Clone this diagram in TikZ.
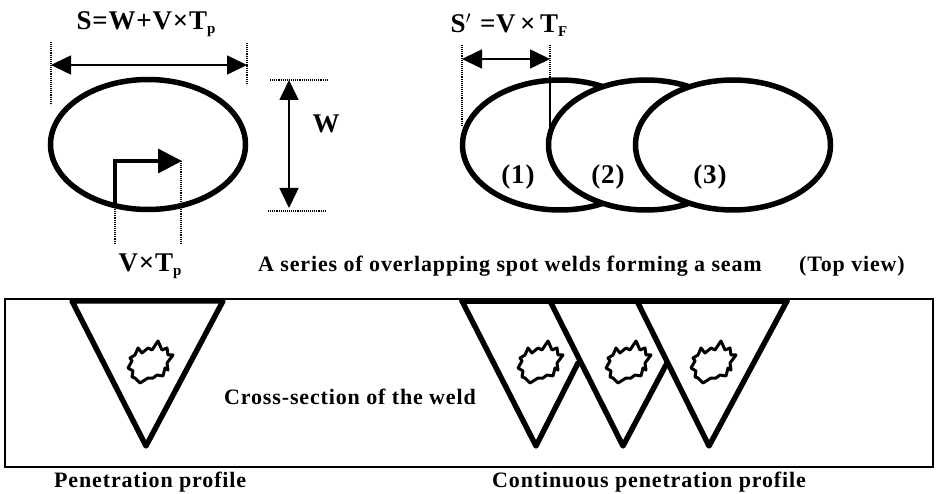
\documentclass[tikz,border=0pt]{standalone}
\usepackage{fontspec}
\setmainfont{Liberation Serif}
\newfontfamily\spacedbf[LetterSpace=3.9]{Liberation Serif Bold}
\newfontfamily\wideform[LetterSpace=3]{Liberation Serif Bold}
\newcommand{\tsub}[1]{\raisebox{-4pt}{\fontsize{15}{15}\selectfont #1}}
\usetikzlibrary{arrows.meta,shapes.geometric}
\tikzset{
    weldspot/.style={draw,ellipse,fill=white,line width=5.5pt,minimum width=195pt,minimum height=130pt,inner sep=0pt},
    dimarrow/.style={line width=1.6pt,{Triangle[length=20pt,width=19pt]}-{Triangle[length=20pt,width=19pt]}},
    dimline/.style={line width=1.1pt,densely dotted},
    weldline/.style={line width=5.4pt,line cap=round,line join=round},
    lbl/.style={font=\spacedbf\fontsize{22}{24}\selectfont,inner sep=0pt},
    biglbl/.style={font=\wideform\fontsize{27}{30}\selectfont,inner sep=0pt},
    pore/.pic={
        \draw[line width=3pt,line join=round] (-15,-8) -- (-12,-15) -- (-8,-10) -- (-2,-15) -- (2,-13) -- (8,-22) -- (12,-13) -- (17,-15) -- (18,-8) -- (23,-8) -- (17,0) -- (18,7) -- (15,5) -- (13,13) -- (7,12) -- (3,15) -- (-2,15) -- (-10,20) -- (-15,15) -- (-18,14) -- (-17,8) -- (-22,5) -- (-18,-2) -- (-20,-5) -- cycle;
    }
}
\begin{document}
\begin{tikzpicture}[x=1pt,y=-1pt]
    \useasboundingbox (0,0) rectangle (940,494);
    % single spot
    \node[weldspot] (spot) at (148,144.5) {};
    \coordinate (sl) at (51,65);
    \coordinate (sr) at (247,65);
    \draw[dimarrow] (sl) -- (sr);
    \draw[dimline] (51,42) -- (sl) -- (51,105);
    \draw[dimline] (247,43) -- (sr) -- (247,85);
    \node[biglbl] (stot) at (146,24) {S=W+V×T\tsub{p}};
    \coordinate (wt) at (289,80);
    \coordinate (wb) at (289,208);
    \draw[dimarrow] (wt) -- (wb);
    \draw[dimline] (270,80) -- (328,80);
    \draw[dimline] (268,211) -- (326,211);
    \node[biglbl] (wlab) at (326,124) {W};
    \coordinate (va) at (115,161);
    \coordinate (vb) at (182,161);
    \draw[line width=3.4pt,-{Triangle[length=24pt,width=24pt]}] (115,207) -- (va) -- (vb);
    \draw[dimline] (115,207) -- (115,244);
    \draw[dimline] (181,161) -- (181,244);
    \node[biglbl] (vt) at (150,266) {V×T\tsub{p}};
    % overlapping spots
    \node[weldspot] (spota) at (560,145) {};
    \node[weldspot] (spotb) at (646,145) {};
    \node[weldspot] (spotc) at (733,145) {};
    \coordinate (ol) at (462,59);
    \coordinate (or) at (550,59);
    \draw[dimarrow] (ol) -- (or);
    \draw[dimline] (462,45) -- (462,125);
    \draw[dimline] (550,45) -- (550,80);
    \draw[line width=1.2pt] (550,82) -- (550,128);
    \node[biglbl] (sone) at (509,25) {S$^{\prime}$\,\,=V\,×\,T\tsub{F}};
    \node[biglbl] (na) at (518,177) {(1)};
    \node[biglbl] (nb) at (608,177) {(2)};
    \node[biglbl] (nc) at (710,177) {(3)};
    \node[lbl,anchor=west] (serieslab) at (258,266) {A series of overlapping spot welds forming a seam};
    \node[lbl,anchor=east] (toplab) at (905,266) {(Top view)};
    % cross-section
    \draw[line width=1.5pt] (5,299) rectangle (933,467);
    \draw[weldline] (72,301) -- (146,446) -- (223,301) -- cycle;
    \draw[weldline] (462,301) -- (787,301);
    \draw[weldline] (462,301) -- (536,446) -- (578,363);
    \draw[weldline] (550,301) -- (623,446) -- (667,363);
    \draw[weldline] (637,301) -- (709,446) -- (787,301);
    \pic at (150,363) {pore};
    \pic at (540,363) {pore};
    \pic at (628,363) {pore};
    \pic at (713,363) {pore};
    \node[lbl] (crosslab) at (350,397) {Cross-section of the weld};
    \node[lbl,anchor=west] (penlab) at (54,482) {Penetration profile};
    \node[lbl,anchor=west] (contlab) at (492,482) {Continuous penetration profile};
\end{tikzpicture}
\end{document}
